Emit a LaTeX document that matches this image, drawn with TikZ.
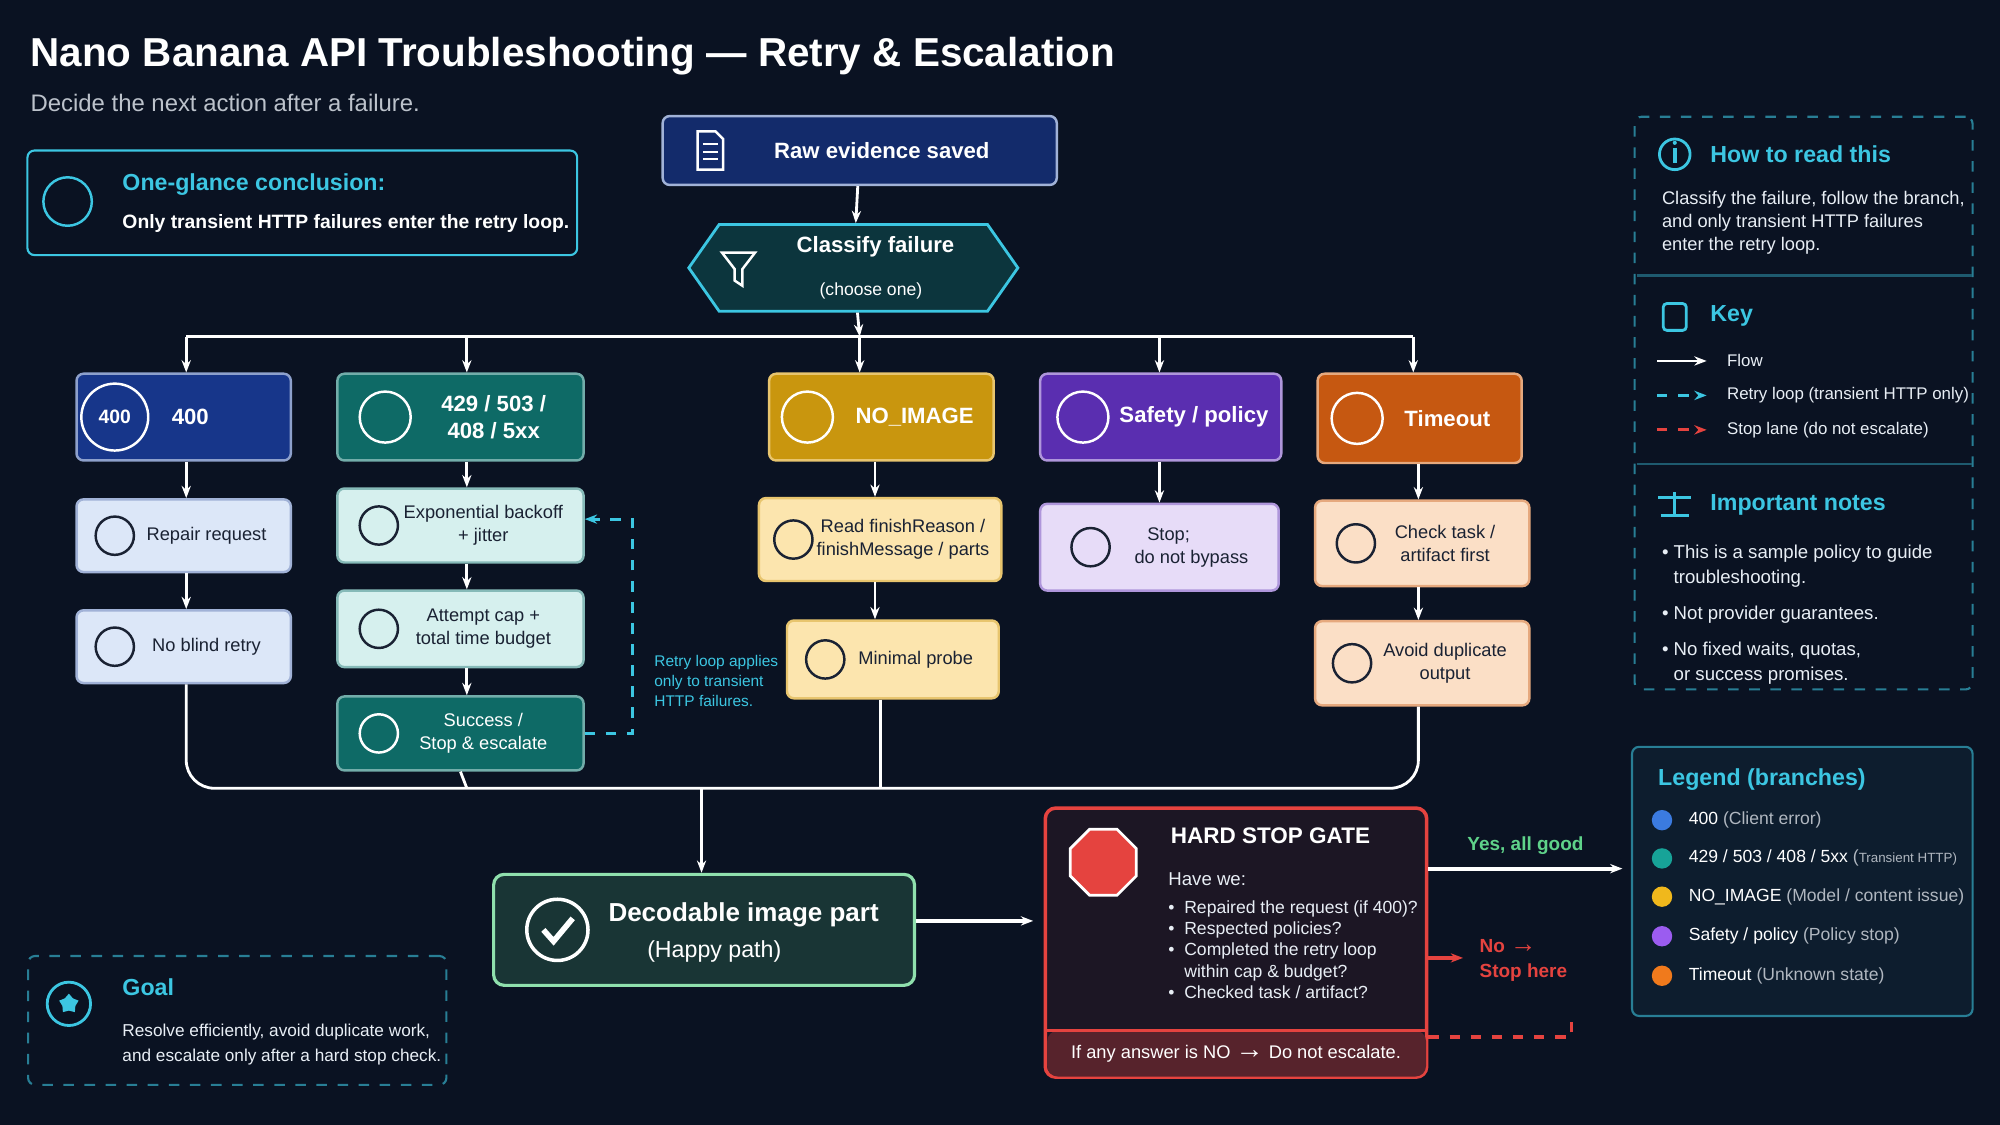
\documentclass[tikz,border=0pt]{standalone}
\usepackage{fontspec}
\setmainfont{Liberation Sans}
\usetikzlibrary{positioning,shapes.symbols,shapes.geometric,arrows.meta}
\newlength\pu \setlength\pu{0.012755cm}
\definecolor{bgc}{HTML}{0A1222}
\definecolor{cy}{HTML}{3CC6E2}
\definecolor{txt}{HTML}{E8EEF5}
\definecolor{dk}{HTML}{1A2233}
\definecolor{bluef}{HTML}{17368A}\definecolor{bluel}{HTML}{DCE7F8}
\definecolor{tealf}{HTML}{0E6A66}\definecolor{teall}{HTML}{D6F0EE}
\definecolor{goldf}{HTML}{C9960E}\definecolor{goldl}{HTML}{FCE5AE}
\definecolor{purf}{HTML}{5A2EB0}\definecolor{purl}{HTML}{E7DCF8}
\definecolor{orf}{HTML}{C65811}\definecolor{orl}{HTML}{FBDFC6}
\definecolor{redc}{HTML}{E5433F}\definecolor{grn}{HTML}{5FD38A}
\tikzset{every picture/.style={line width=0.6pt}}
\tikzset{
  fnt/.style={font=\fontsize{5.2}{6.6}\selectfont},
  box/.style={draw, rounded corners=2pt, align=center, fnt, text=dk, line width=0.7pt},
  head/.style={draw, rounded corners=2pt, align=center, text=white, line width=0.7pt, font=\bfseries\fontsize{6.3}{7.6}\selectfont},
  flow/.style={-{Stealth[length=3.5pt]}, white, line width=0.8pt},
  icon/.style={draw, circle, minimum size=22\pu, line width=0.7pt},
  panel/.style={draw=cy!60!bgc, rounded corners=2pt, line width=0.6pt},
  ttl/.style={anchor=west, text=cy, font=\bfseries\fontsize{6.6}{8}\selectfont},
  note/.style={anchor=north west, text=txt, align=left, fnt},
}
\begin{document}
\begin{tikzpicture}[x=\pu, y=-\pu]
\fill[bgc] (0,0) rectangle (1568,882);
\useasboundingbox (0,0) rectangle (1568,882);
% title
\node[anchor=west, text=white, font=\bfseries\fontsize{11.5}{13}\selectfont] (title) at (14,44) {Nano Banana API Troubleshooting — Retry \& Escalation};
\node[anchor=west, text=txt!80!bgc, font=\fontsize{6.8}{8}\selectfont] (sub) at (14,81) {Decide the next action after a failure.};
% conclusion
\node[panel, draw=cy, minimum width=431\pu, minimum height=82\pu] (concl) at (237,159) {};
\node[icon, draw=cy, minimum size=38\pu] (ci) at (53,158) {};
\node[ttl] (ct) at (86,145) {One-glance conclusion:};
\node[anchor=west, text=white, font=\bfseries\fontsize{5.5}{7}\selectfont] (cb) at (86,175) {Only transient HTTP failures enter the retry loop.};
% top
\node[head, fill=bluef!70!bgc, draw=bluel!70!bluef, minimum width=309\pu, minimum height=54\pu] (raw) at (674,118) {\hspace{2em}Raw evidence saved};
\draw[white, line width=0.7pt] (547,103) -- (561,103) -- (567,109) -- (567,133) -- (547,133) -- cycle;
\draw[white, line width=0.6pt] (551,113) -- (563,113) (551,119) -- (563,119) (551,125) -- (563,125);
\node[draw=cy, fill=tealf!40!bgc, signal, signal to=east and west, signal pointer angle=110, minimum width=258\pu, minimum height=68\pu, align=center, text=white, line width=0.8pt, inner ysep=1pt] (cls) at (669,210) {{\bfseries\fontsize{6.3}{7.6}\selectfont \hspace{2em}Classify failure}\\{\fontsize{5}{6.5}\selectfont \hspace{2em}(choose one)}};
\draw[white, line width=0.7pt] (566,198) -- (592,198) -- (582,211) -- (582,224) -- (576,220) -- (576,211) -- cycle;
\draw[flow] (raw) -- (cls);
% branches
\node[head, fill=bluef, draw=bluel!60!bluef, minimum width=168\pu, minimum height=68\pu] (b400) at (144,327) {\hspace{0.6em}400};
\node[icon, draw=white, font=\bfseries\fontsize{5.5}{6}\selectfont, text=white, minimum size=40\pu] at (90,327) {400};
\node[head, fill=tealf, draw=teall!50!tealf, minimum width=193\pu, minimum height=68\pu] (b429) at (361,327) {\hspace{3em}429 / 503 /\\\hspace{3em}408 / 5xx};
\node[icon, draw=white, minimum size=40\pu] at (302,327) {};
\node[head, fill=goldf, draw=goldl!60!goldf, minimum width=176\pu, minimum height=68\pu] (bnoi) at (691,327) {\hspace{3em}NO\_IMAGE};
\node[icon, draw=white, minimum size=40\pu] at (633,327) {};
\node[head, fill=purf, draw=purl!60!purf, minimum width=189\pu, minimum height=68\pu] (bsaf) at (910,327) {\hspace{3em}Safety / policy};
\node[icon, draw=white, minimum size=40\pu] at (849,327) {};
\node[head, fill=orf, draw=orl!60!orf, minimum width=160\pu, minimum height=70\pu] (btim) at (1113,328) {\hspace{2.5em}Timeout};
\node[icon, draw=white, minimum size=40\pu] at (1064,328) {};
\coordinate (bus) at (674,264);
\draw[flow] (cls) -- (bus);
\draw[white, line width=0.8pt] (146,264) -- (1108,264);
\draw[flow] (146,264) -- (b400.north -| 146,0);
\draw[flow] (366,264) -- (b429.north -| 366,0);
\draw[flow] (674,264) -- (bnoi.north -| 674,0);
\draw[flow] (909,264) -- (bsaf.north -| 909,0);
\draw[flow] (1108,264) -- (btim.north -| 1108,0);
% second level
\node[box, fill=bluel, draw=bluel!70!bluef, minimum width=168\pu, minimum height=57\pu] (rep) at (144,420) {\hspace{2.5em}Repair request};
\node[box, fill=bluel, draw=bluel!70!bluef, minimum width=168\pu, minimum height=57\pu] (nob) at (144,507) {\hspace{2.5em}No blind retry};
\node[box, fill=teall, draw=teall!60!tealf, minimum width=193\pu, minimum height=58\pu] (exp) at (361,412) {\hspace{2.5em}Exponential backoff\\\hspace{2.5em}+ jitter};
\node[box, fill=teall, draw=teall!60!tealf, minimum width=193\pu, minimum height=60\pu] (att) at (361,493) {\hspace{2.5em}Attempt cap +\\\hspace{2.5em}total time budget};
\node[box, fill=tealf, draw=teall!50!tealf, text=white, minimum width=193\pu, minimum height=58\pu] (suc) at (361,575) {\hspace{2.5em}Success /\\\hspace{2.5em}Stop \& escalate};
\node[box, fill=goldl, draw=goldl!60!goldf, minimum width=190\pu, minimum height=65\pu] (rfr) at (690,423) {\hspace{2.5em}Read finishReason /\\\hspace{2.5em}finishMessage / parts};
\node[box, fill=goldl, draw=goldl!60!goldf, minimum width=166\pu, minimum height=61\pu] (mpr) at (700,517) {\hspace{2.5em}Minimal probe};
\node[box, fill=purl, draw=purl!60!purf, minimum width=187\pu, minimum height=68\pu] (stp) at (909,429) {\hspace{1em}Stop;\\\hspace{3.5em}do not bypass};
\node[box, fill=orl, draw=orl!60!orf, minimum width=168\pu, minimum height=67\pu] (chk) at (1115,426) {\hspace{2.5em}Check task /\\\hspace{2.5em}artifact first};
\node[box, fill=orl, draw=orl!60!orf, minimum width=168\pu, minimum height=66\pu] (avd) at (1115,520) {\hspace{2.5em}Avoid duplicate\\\hspace{2.5em}output};
\foreach \p/\c in {{90,420}/dk,{90,507}/dk,{297,412}/dk,{297,493}/dk,{297,575}/white,{622,423}/dk,{647,517}/dk,{855,429}/dk,{1063,426}/dk,{1060,520}/dk}
  \draw[\c, line width=0.7pt] (\p) circle (15);
\draw[flow] (b400.south -| 146,0) -- (rep.north -| 146,0);
\draw[flow] (rep.south -| 146,0) -- (nob.north -| 146,0);
\draw[flow] (b429.south -| 366,0) -- (exp.north -| 366,0);
\draw[flow] (exp.south -| 366,0) -- (att.north -| 366,0);
\draw[flow] (att.south -| 366,0) -- (suc.north -| 366,0);
\draw[flow] (bnoi.south -| 686,0) -- (rfr.north -| 686,0);
\draw[flow] (rfr.south -| 686,0) -- (mpr.north -| 686,0);
\draw[flow] (bsaf.south -| 909,0) -- (stp.north -| 909,0);
\draw[flow] (btim.south -| 1112,0) -- (chk.north -| 1112,0);
\draw[flow] (chk.south -| 1112,0) -- (avd.north -| 1112,0);
% retry loop
\draw[cy, dashed, line width=0.8pt, -{Stealth[length=3.5pt]}] (suc.east) -- (496,575) -- (496,407) -- (exp.east |- 0,407);
\node[anchor=north west, text=cy, align=left, font=\fontsize{4.4}{5.6}\selectfont] (rl) at (503,504) {Retry loop applies\\only to transient\\HTTP failures.};
% merge
\node[draw=grn!70!white, fill=grn!18!bgc, rounded corners=3pt, line width=0.9pt, minimum width=330\pu, minimum height=87\pu] (dec) at (552,729) {};
\draw[white, line width=1pt] (437,729) circle (24);
\draw[white, line width=1.6pt] (426,729) -- (434,738) -- (449,720);
\node[text=white, font=\bfseries\fontsize{7.4}{9}\selectfont] (dt) at (583,717) {Decodable image part};
\node[text=white, font=\fontsize{6.6}{8}\selectfont] (dh) at (560,746) {(Happy path)};
\coordinate (mg) at (550,618);
\draw[white, line width=0.8pt, rounded corners=8pt] (nob.south -| 146,0) -- (146,618) -- (1112,618) -- (avd.south -| 1112,0);
\draw[white, line width=0.8pt, rounded corners=6pt] (suc.south) -- (366,618);
\draw[white, line width=0.8pt, rounded corners=6pt] (mpr.south -| 690,0) -- (690,618);
\draw[flow] (mg) -- (dec.north -| mg);
% hard stop
\node[draw=redc, fill=redc!8!bgc, rounded corners=3pt, line width=1pt, minimum width=299\pu, minimum height=211\pu] (hsg) at (969,739) {};
\fill[redc!35!bgc, rounded corners=3pt] (821,808) rectangle (1118,844);
\draw[redc, line width=0.8pt] (821,808) -- (1118,808);
\node[regular polygon, regular polygon sides=8, draw=white, fill=redc, minimum size=56\pu, line width=0.8pt] (oct) at (865,676) {};
\node[anchor=west, text=white, font=\bfseries\fontsize{6.4}{8}\selectfont] (hst) at (908,655) {HARD STOP GATE};
\node[note, font=\fontsize{5.3}{7}\selectfont] (hw) at (906,674) {Have we:};
\node[note, font=\fontsize{5}{6.05}\selectfont] (hb) at (906,696) {%
\textbullet\ \ Repaired the request (if 400)?\\
\textbullet\ \ Respected policies?\\
\textbullet\ \ Completed the retry loop\\
\phantom{\textbullet\ \ }within cap \& budget?\\
\textbullet\ \ Checked task / artifact?};
\node[text=white, fnt] (hn) at (969,826) {If any answer is NO {\bfseries\fontsize{8}{8}\selectfont →} Do not escalate.};
\draw[flow, line width=1.2pt] (dec.east |- 0,722) -- (810,722);
\coordinate (yes) at (1272,681);
\draw[flow, line width=1.1pt] (hsg.east |- yes) -- (yes) node[midway, above, text=grn, font=\bfseries\fontsize{5.4}{7}\selectfont] {Yes, all good};
\coordinate (no) at (1147,751);
\draw[redc, -{Stealth[length=3.5pt]}, line width=1pt] (hsg.east |- no) -- (no);
\node[anchor=west, text=redc, align=left, font=\bfseries\fontsize{5.4}{7}\selectfont] (nt) at (1150,753) {No {\fontsize{7.5}{7}\selectfont →}\\Stop here};
\draw[redc, dashed, line width=0.9pt] (hsg.east |- 0,813) -- (1232,813) -- (1232,795);
% how to read
\node[panel, dashed, minimum width=265\pu, minimum height=449\pu] (htr) at (1414,316) {};
\draw[cy!40!bgc] (1283,216) -- (1546,216) (1283,364) -- (1546,364);
\draw[cy, line width=0.8pt] (1313,121) circle (12);
\draw[cy, line width=1pt] (1313,116) -- (1313,128);
\fill[cy] (1313,112) circle (1.6);
\node[ttl] (h1) at (1331,121) {How to read this};
\node[note] (h1t) at (1293,140) {Classify the failure, follow the branch,\\and only transient HTTP failures\\enter the retry loop.};
\draw[cy, line width=0.8pt, rounded corners=1pt] (1304,238) rectangle (1322,259);
\node[ttl] (h2) at (1331,248) {Key};
\draw[flow] (1299,283) -- (1338,283);
\node[anchor=west, text=txt, font=\fontsize{4.8}{6}\selectfont] at (1344,283) {Flow};
\draw[cy, dashed, line width=0.8pt, -{Stealth[length=3.5pt]}] (1299,310) -- (1338,310);
\node[anchor=west, text=txt, font=\fontsize{4.8}{6}\selectfont] at (1344,310) {Retry loop (transient HTTP only)};
\draw[redc, dashed, line width=0.8pt, -{Stealth[length=3.5pt]}] (1299,337) -- (1338,337);
\node[anchor=west, text=txt, font=\fontsize{4.8}{6}\selectfont] at (1344,337) {Stop lane (do not escalate)};
\draw[cy, line width=0.8pt] (1302,404) -- (1324,404) (1313,386) -- (1313,404) (1300,390) -- (1326,390);
\node[ttl] (h3) at (1331,396) {Important notes};
\node[note, font=\fontsize{5.3}{7.2}\selectfont] (h3t) at (1293,417) {\textbullet\ This is a sample policy to guide\\\phantom{\textbullet\ }troubleshooting.\\[3pt]\textbullet\ Not provider guarantees.\\[3pt]\textbullet\ No fixed waits, quotas,\\\phantom{\textbullet\ }or success promises.};
% legend
\node[draw=cy!60!bgc, fill=cy!6!bgc, rounded corners=2pt, minimum width=267\pu, minimum height=211\pu] (leg) at (1413,691) {};
\node[ttl] (lt) at (1290,611) {Legend (branches)};
\foreach \y/\c/\a/\b in {643/3B7BE0/400/{Client error},673/17A398/{429 / 503 / 408 / 5xx}/{\fontsize{3.8}{5}\selectfont Transient HTTP},703/F0B81C/NO\_IMAGE/{Model / content issue},734/9B5CF0/{Safety / policy}/{Policy stop},765/F07A1C/Timeout/{Unknown state}}{
  \definecolor{dc}{HTML}{\c}
  \fill[dc] (1303,\y) circle (8);
  \node[anchor=west, text=white, font=\fontsize{5}{7}\selectfont] at (1314,\y) {\a\ {\color{txt!75!bgc}(\b)}};
}
% goal
\node[panel, dashed, minimum width=328\pu, minimum height=101\pu] (goal) at (186,800) {};
\draw[cy, line width=0.8pt] (54,787) circle (17);
\node[star, star points=5, fill=cy, minimum size=16\pu, inner sep=0pt] at (54,787) {};
\node[ttl] (gt) at (86,774) {Goal};
\node[note, font=\fontsize{4.9}{7}\selectfont] (gx) at (86,793) {Resolve efficiently, avoid duplicate work,\\and escalate only after a hard stop check.};
\end{tikzpicture}
\end{document}
